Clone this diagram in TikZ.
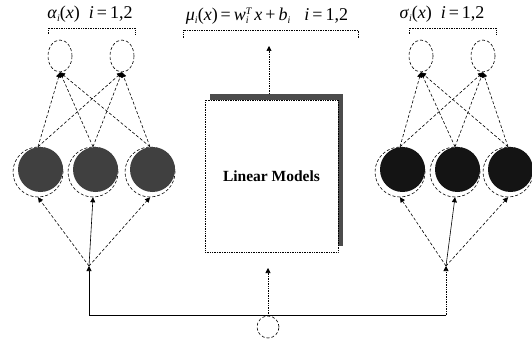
\documentclass[tikz,border=0pt]{standalone}
\usepackage{fontspec}
\setmainfont{Liberation Serif}
\usetikzlibrary{arrows.meta,shapes.geometric}
\newcommand{\ilet}[1]{\textit{#1}}
\newcommand{\isub}[1]{\raisebox{-0.35ex}{\fontsize{10}{10}\selectfont\itshape #1}}
\newcommand{\isubsup}[2]{\rlap{\raisebox{-0.35ex}{\fontsize{10}{10}\selectfont\itshape #1}}\raisebox{0.75ex}{\fontsize{10}{10}\selectfont\itshape #2}}
\tikzset{
  tip/.style={-{Triangle[length=5pt,width=5pt]}},
  link/.style={densely dashed,line width=0.6pt,tip},
  slink/.style={line width=0.6pt,tip},
  dlink/.style={densely dotted,line width=0.7pt,tip},
  outnode/.style={ellipse,draw,densely dashed,line width=0.6pt,minimum width=24pt,minimum height=32pt,inner sep=0pt},
  hidnode/.style={circle,draw,densely dashed,line width=0.6pt,minimum size=50pt,inner sep=0pt},
  darkfill/.style={circle,fill=#1,minimum size=45pt,inner sep=0pt},
  brk/.style={densely dotted,line width=0.7pt},
  lbl/.style={font=\fontsize{18}{20}\selectfont,inner sep=0pt}
}
\begin{document}
\begin{tikzpicture}[x=1pt,y=-1pt]
\useasboundingbox (0,0) rectangle (532,339);

% ---------- labels and brackets ----------
\node[lbl] (la) at (90,14) {\ilet{α}\isub{i}(\ilet{x})\hspace{9pt}\ilet{i}\,=\,1,2};
\node[lbl] (lm) at (267,16) {\ilet{μ}\isub{i}(\ilet{x})\,=\,\ilet{w}\isubsup{i}{T}\,\ilet{x}\,+\,\ilet{b}\isub{i}\hspace{14pt}\ilet{i}\,=\,1,2};
\node[lbl] (ls) at (442,14) {\ilet{σ}\isub{i}(\ilet{x})\hspace{9pt}\ilet{i}\,=\,1,2};
\draw[brk] (48,34) -- (48,28) -- (135,28) -- (135,34);
\draw[brk] (183,38) -- (183,30) -- (358,30) -- (358,38);
\draw[brk] (409,34) -- (409,28) -- (496,28) -- (496,34);

% ---------- left network ----------
\node[outnode] (a1) at (60,56) {};
\node[outnode] (a2) at (122,56) {};
\foreach \n/\x in {1/38,2/93,3/150}{
  \node[hidnode] (h\n) at (\x,172) {};
  \node[darkfill=black!75] (hd\n) at (\x+2.5,169.5) {};
}
% ---------- right network ----------
\node[outnode] (s1) at (421,56) {};
\node[outnode] (s2) at (483,56) {};
\foreach \n/\x in {1/400,2/455,3/508}{
  \node[hidnode] (g\n) at (\x,172) {};
  \node[darkfill=black!92] (gd\n) at (\x+2.5,169.5) {};
}

% hidden -> outputs
\foreach \n in {1,2,3}{
  \draw[link] (h\n.north) -- (a1.south);
  \draw[link] (h\n.north) -- (a2.south);
  \draw[link] (g\n.north) -- (s1.south);
  \draw[link] (g\n.north) -- (s2.south);
}

% ---------- linear model box ----------
\node[fill=black!70,minimum width=133pt,minimum height=152pt,inner sep=0pt] (boxsh) at (276,170) {};
\node[draw,densely dotted,fill=white,line width=0.7pt,minimum width=133pt,minimum height=152pt,inner sep=0pt,
      font=\bfseries\fontsize{15.5}{18}\selectfont] (box) at (271.5,176) {Linear Models};
\coordinate (mtip) at (269,46);
\draw[dlink] (boxsh.north -| mtip) -- (mtip);

% ---------- input ----------
\node[circle,draw,densely dashed,line width=0.6pt,minimum size=22pt,inner sep=0pt] (inp) at (268,327) {};
\coordinate (jl) at (89,266);
\coordinate (jr) at (446,266);
\coordinate (bl) at (89,315);
\coordinate (br) at (446,315);
\coordinate (mt) at (268,268);
\draw[line width=0.6pt] (bl) -- (br);
\draw[slink] (bl) -- (jl);
\draw[dlink] (br) -- (jr);
\draw[dlink] (inp.north) -- (mt);

% fans
\draw[link] (jl) -- (h1.south);
\draw[slink] (jl) -- (h2.south);
\draw[link] (jl) -- (h3.south);
\draw[link] (jr) -- (g1.south);
\draw[slink] (jr) -- (g2.south);
\draw[link] (jr) -- (g3.south);
\end{tikzpicture}
\end{document}
